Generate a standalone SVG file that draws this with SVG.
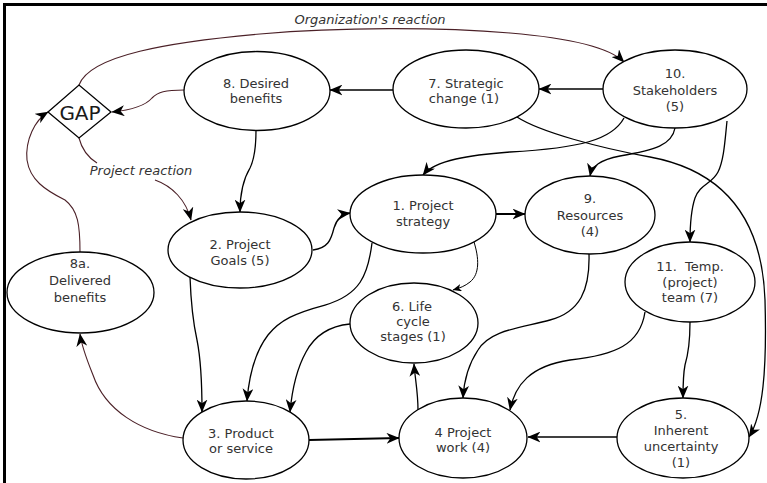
<svg xmlns="http://www.w3.org/2000/svg" width="767" height="483" viewBox="0 0 767 483">
  <style>
    .node ellipse { fill: #ffffff; stroke: #000000; stroke-width: 1.3; }
    .node polygon { fill: #ffffff; stroke: #000000; stroke-width: 1.3; }
    .node text, .label { font-family: "DejaVu Sans", Verdana, sans-serif; font-size: 13px; fill: #333333; text-anchor: middle; }
    .label { font-style: italic; }
    .node text.gap { font-size: 20px; fill: #1a1a1a; }
    .link { fill: none; stroke: #000000; stroke-width: 1.3; }
    .link.heavy { stroke-width: 2; }
    .link.thin { stroke-width: 1; }
    .link.feedback { stroke: #4b2027; stroke-width: 1.1; }
  </style>
  <defs>
    <marker id="arrow" viewBox="0 0 12 10" markerUnits="userSpaceOnUse" markerWidth="13" markerHeight="11" refX="11.5" refY="5" orient="auto">
      <path d="M0,0 L12,5 L0,10 L3.5,5 Z" fill="#000000"/>
    </marker>
    <marker id="arrow-small" viewBox="0 0 12 10" markerUnits="userSpaceOnUse" markerWidth="9" markerHeight="7.5" refX="11.5" refY="5" orient="auto">
      <path d="M0,0 L12,5 L0,10 L3.5,5 Z" fill="#000000"/>
    </marker>
  </defs>

  <rect x="0" y="0" width="767" height="483" fill="#ffffff"/>
  <!-- frame: top and left rules -->
  <path d="M4.5,483 L4.5,4.5 L767,4.5" fill="none" stroke="#000000" stroke-width="3"/>

  <g id="connectors">
    <!-- feedback loops -->
    <path class="link feedback" d="M79,85 C 90,55 170,42 260,34 C 340,27 440,27 510,33 C 570,38 610,48 624,62" marker-end="url(#arrow)"/>
    <path class="link feedback" d="M184,90 C 165,90 158,92 152,98 C 146,105 132,110 112,112" marker-end="url(#arrow)"/>
    <path class="link feedback" d="M79,138 C 82,150 89,158 97,163"/>
    <path class="link feedback" d="M155,180 C 172,186 186,200 191,220" marker-end="url(#arrow)"/>
    <path class="link feedback" d="M80,252 C 80,225 78,210 65,200 C 45,190 30,180 27,160 C 25,140 35,120 48,112" marker-end="url(#arrow)"/>
    <path class="link feedback" d="M183,438 C 140,432 105,410 93,375 C 87,360 82,348 80,334" marker-end="url(#arrow)"/>

    <!-- top row -->
    <path class="link" d="M393,90 L330,90" marker-end="url(#arrow)"/>
    <path class="link" d="M603,89 L539,89" marker-end="url(#arrow)"/>
    <path class="link" d="M256,130 C 256,150 254,160 250,168 C 244,178 240,190 240,212" marker-end="url(#arrow)"/>

    <!-- from stakeholders -->
    <path class="link" d="M624,118 C 612,140 580,148 510,152 C 470,155 435,160 423,175" marker-end="url(#arrow)"/>
    <path class="link" d="M675,128 C 672,145 655,150 620,156 C 600,160 592,166 590,176" marker-end="url(#arrow)"/>
    <path class="link" d="M727,121 C 725,140 724,160 718,172 C 712,184 700,184 695,198 C 691,210 690,225 690,242" marker-end="url(#arrow)"/>
    <path class="link" d="M517,117 C 540,132 600,148 650,157 C 720,170 762,215 765,300 C 767,370 763,415 749,437" marker-end="url(#arrow)"/>

    <!-- middle row -->
    <path class="link" d="M313,250 C 328,248 331,240 334,228 C 337,218 342,214 350,213" marker-end="url(#arrow)"/>
    <path class="link heavy" d="M496,214 L525,214" marker-end="url(#arrow)"/>
    <path class="link thin" d="M474,242 C 479,258 480,274 470,282 C 465,286 460,288 453,290" marker-end="url(#arrow-small)"/>
    <path class="link" d="M372,243 C 368,275 360,295 325,305 C 295,313 280,320 268,335 C 255,352 249,375 247,401" marker-end="url(#arrow)"/>
    <path class="link" d="M190,277 C 191,305 193,322 197,340 C 201,360 202,385 202,412" marker-end="url(#arrow)"/>
    <path class="link" d="M350,324 C 330,326 315,335 306,352 C 296,370 292,390 290,412" marker-end="url(#arrow)"/>
    <path class="link" d="M589,254 C 590,290 580,312 550,320 C 520,328 490,330 478,350 C 468,365 464,380 463,398" marker-end="url(#arrow)"/>
    <path class="link" d="M645,312 C 640,345 615,355 570,360 C 530,366 515,385 510,410" marker-end="url(#arrow)"/>
    <path class="link" d="M690,322 C 690,345 688,355 685,365 C 683,375 683,385 683,398" marker-end="url(#arrow)"/>

    <!-- bottom row -->
    <path class="link heavy" d="M309,440 L399,438" marker-end="url(#arrow)"/>
    <path class="link" d="M617,437 L528,437" marker-end="url(#arrow)"/>
    <path class="link" d="M418,410 C 418,392 415,378 414,364" marker-end="url(#arrow)"/>
  </g>

  <text class="label" x="370" y="24">Organization's reaction</text>
  <text class="label" x="141" y="175">Project reaction</text>

  <g id="gap" class="node">
    <polygon points="48,112 79,85 111,112 79,138"/>
    <text class="gap" x="80" y="120">GAP</text>
  </g>

  <g id="n8" class="node">
    <ellipse cx="257" cy="91" rx="73" ry="39.5"/>
    <text x="256" y="88">8. Desired</text>
    <text x="256" y="103">benefits</text>
  </g>

  <g id="n7" class="node">
    <ellipse cx="466" cy="89" rx="73" ry="39"/>
    <text x="466" y="88">7. Strategic</text>
    <text x="464" y="103">change (1)</text>
  </g>

  <g id="n10" class="node">
    <ellipse cx="675" cy="89" rx="72" ry="39"/>
    <text x="675" y="78">10.</text>
    <text x="675" y="95">Stakeholders</text>
    <text x="675" y="111">(5)</text>
  </g>

  <g id="n1" class="node">
    <ellipse cx="423" cy="214" rx="73" ry="39"/>
    <text x="423" y="210">1. Project</text>
    <text x="423" y="226">strategy</text>
  </g>

  <g id="n2" class="node">
    <ellipse cx="240" cy="250" rx="72" ry="38"/>
    <text x="240" y="249">2. Project</text>
    <text x="240" y="265">Goals (5)</text>
  </g>

  <g id="n9" class="node">
    <ellipse cx="590" cy="215" rx="65" ry="39"/>
    <text x="590" y="203">9.</text>
    <text x="590" y="220">Resources</text>
    <text x="590" y="236">(4)</text>
  </g>

  <g id="n11" class="node">
    <ellipse cx="690" cy="282" rx="65" ry="40"/>
    <text x="690" y="271" xml:space="preserve">11.  Temp.</text>
    <text x="690" y="287">(project)</text>
    <text x="690" y="302">team (7)</text>
  </g>

  <g id="n8a" class="node">
    <ellipse cx="80.5" cy="292.5" rx="73.5" ry="40.5"/>
    <text x="80" y="268">8a.</text>
    <text x="80" y="285">Delivered</text>
    <text x="80" y="302">benefits</text>
  </g>

  <g id="n6" class="node">
    <ellipse cx="414" cy="323" rx="64" ry="40"/>
    <text x="412" y="311">6. Life</text>
    <text x="413" y="326">cycle</text>
    <text x="413" y="341">stages (1)</text>
  </g>

  <g id="n3" class="node">
    <ellipse cx="246" cy="440" rx="63" ry="39"/>
    <text x="241" y="438">3. Product</text>
    <text x="241" y="453">or service</text>
  </g>

  <g id="n4" class="node">
    <ellipse cx="463" cy="438" rx="64" ry="40"/>
    <text x="463" y="437">4 Project</text>
    <text x="463" y="452">work (4)</text>
  </g>

  <g id="n5" class="node">
    <ellipse cx="683" cy="438" rx="66" ry="40"/>
    <text x="681" y="419">5.</text>
    <text x="681" y="435">Inherent</text>
    <text x="681" y="451">uncertainty</text>
    <text x="681" y="467">(1)</text>
  </g>
</svg>
